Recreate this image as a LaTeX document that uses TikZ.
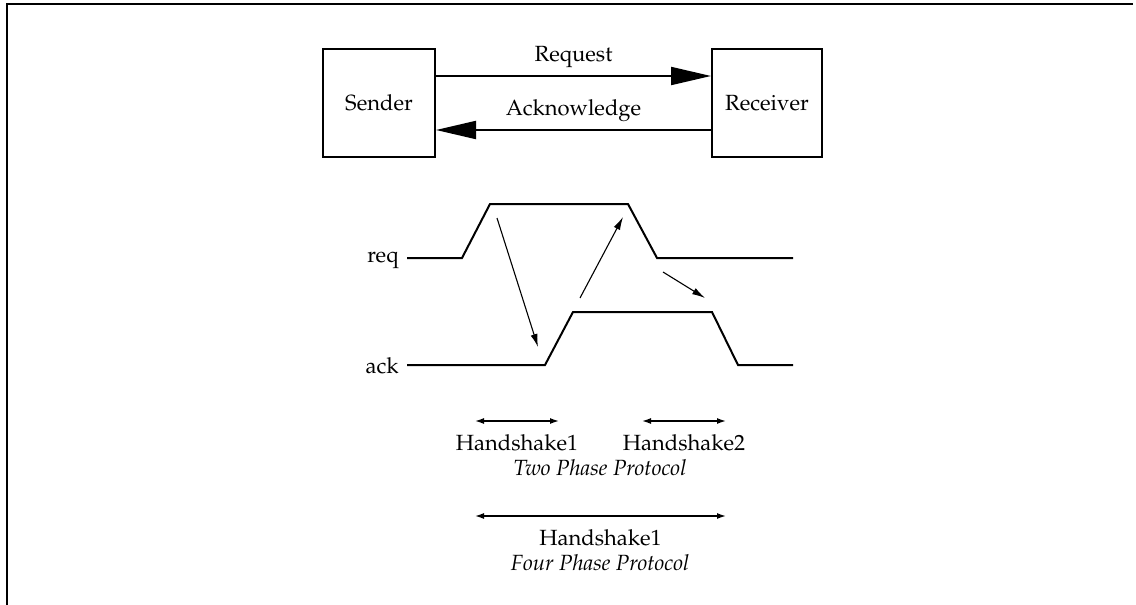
\documentclass[tikz,border=0pt]{standalone}
\usepackage[T1]{fontenc}
\usepackage{mathpazo}
\usetikzlibrary{arrows.meta, positioning}

\begin{document}
\begin{tikzpicture}[
  x=0.5pt, y=-0.5pt,
  every node/.style={font=\fontsize{11}{13}\selectfont},
  box/.style={draw, line width=1pt, inner sep=0pt,
              minimum width=56pt, minimum height=54pt},
  bigarr/.style={-{Triangle[length=20pt, width=9pt]}, line width=1pt},
  sig/.style={line width=1pt},
  cause/.style={-{Latex[length=6.5pt, width=3.5pt]}, line width=0.55pt},
  span/.style={{Latex[length=4.5pt, width=3pt]}-{Latex[length=4.5pt, width=3pt]},
               line width=0.7pt},
  it/.style={font=\fontsize{11}{13}\selectfont\itshape}
]
\useasboundingbox (0,0) rectangle (1136,605);
\draw[line width=1pt] (7,605) -- (7,4) -- (1133,4);

%% ---- SENDER / RECEIVER ------------------------------------------
\node[box] (sender)   at (379,103) {Sender};
\node[box, minimum width=55pt] (receiver) at (767,103) {Receiver};

\draw[bigarr] ([yshift=13.5pt]sender.east) --
  node[above=0.2pt] (reqlbl) {Request} ([yshift=13.5pt]receiver.west);
\draw[bigarr] ([yshift=-13.5pt]receiver.west) --
  node[above=0.5pt] (acklbl) {Acknowledge} ([yshift=-13.5pt]sender.east);

%% ---- WAVEFORMS --------------------------------------------------
\node (req) at (383,260) {req};
\node (ack) at (382,366) {ack};

\draw[sig] (407,258) -- (462,258) -- (490,204) -- (628,204)
  -- (657,258) -- (793,258);
\draw[sig] (407,365) -- (545,365) -- (573,312) -- (712,312)
  -- (738,365) -- (793,365);

\coordinate (r1) at (497,218);
\coordinate (a1) at (538,347);
\coordinate (a2) at (580,298);
\coordinate (r2) at (623,217);
\coordinate (r3) at (663,272);
\coordinate (a3) at (705,298);

\draw[cause] (r1) -- (a1);
\draw[cause] (a2) -- (r2);
\draw[cause] (r3) -- (a3);

%% ---- PROTOCOLS --------------------------------------------------
\coordinate (h1s) at (475,421);
\coordinate (h1e) at (559,421);
\coordinate (h2s) at (642,421);
\coordinate (h2e) at (726,421);

\draw[span] (h1s) -- node[below=3pt] (hs1) {Handshake1} (h1e);
\draw[span] (h2s) -- node[below=3pt] (hs2) {Handshake2} (h2e);
\node[it] (two) at (600,468) {Two Phase Protocol};

\coordinate (f1s) at (475,516);
\coordinate (f1e) at (726,516);
\draw[span] (f1s) -- node[below=3pt] (hs4) {Handshake1} (f1e);
\node[it] (four) at (600,563) {Four Phase Protocol};

\end{tikzpicture}
\end{document}
